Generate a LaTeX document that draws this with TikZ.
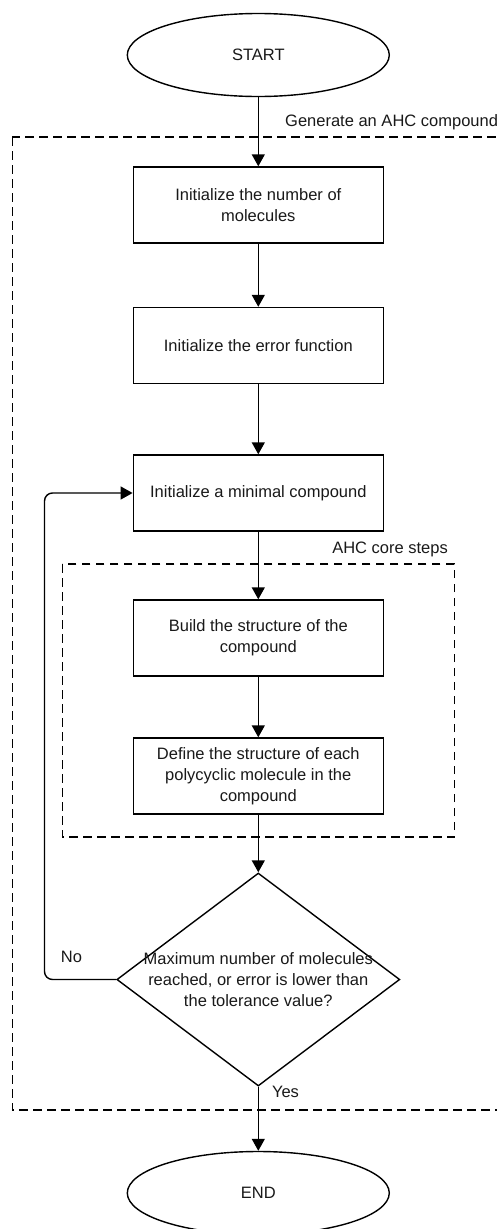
\documentclass[tikz,border=0pt]{standalone}
\usepackage{fontspec}
\setmainfont{Liberation Sans}
\usetikzlibrary{shapes.geometric,arrows.meta}
\begin{document}
\begin{tikzpicture}[x=1pt,y=-1pt,
  every node/.style={font=\fontsize{16.5}{21}\selectfont, text=black!90},
  stepbox/.style={draw, line width=1.4pt, rectangle, minimum width=250pt, minimum height=76pt, align=center, inner sep=0pt},
  termnode/.style={draw, line width=1.4pt, ellipse, minimum width=262pt, minimum height=83pt, inner sep=0pt},
  decnode/.style={draw, line width=1.4pt, diamond, minimum width=283pt, minimum height=213pt, inner sep=0pt},
  arr/.style={line width=1.4pt, -{Triangle[length=12pt,width=13pt]}},
  groupbox/.style={line width=1.2pt, dash pattern=on 8.5pt off 5.5pt},
  lbl/.style={inner sep=0pt}
]
\useasboundingbox (0,0) rectangle (497,1229);
\clip (0,0) rectangle (497,1229);

% group frames
\draw[groupbox] (12.3,137) rectangle (520,1110);
\node[lbl, anchor=west] (glabel) at (285,122) {Generate an AHC compound};
\draw[groupbox] (62.3,564) rectangle (454.3,837);
\node[lbl, anchor=east] (clabel) at (448,549) {AHC core steps};

% nodes
\node[termnode] (start) at (258.3,55) {START};
\node[stepbox] (b1) at (258.3,205) {Initialize the number of\\molecules};
\node[stepbox] (b2) at (258.3,345.5) {Initialize the error function};
\node[stepbox] (b3) at (258.3,493) {Initialize a minimal compound};
\node[stepbox] (b4) at (258.3,638) {Build the structure of the\\compound};
\node[stepbox] (b5) at (258.3,776) {Define the structure of each\\polycyclic molecule in the\\compound};
\node[decnode] (dec) at (258.3,979.5) {};
\node[lbl, align=center] (dectext) at (258.3,980) {Maximum number of molecules\\reached, or error is lower than\\the tolerance value?};
\node[termnode] (end) at (258.3,1193) {END};

% connectors
\draw[arr] (start) -- (b1);
\draw[arr] (b1) -- (b2);
\draw[arr] (b2) -- (b3);
\draw[arr] (b3) -- (b4);
\draw[arr] (b4) -- (b5);
\draw[arr] (b5) -- (dec);
\coordinate (loopx) at (44.5,0);
\draw[arr, rounded corners=8pt] (dec.west) -- (dec.west -| loopx) |- (b3.west);
\node[lbl] (nolabel) at (71.5,957) {No};
\draw[arr] (dec.south) -- (end.north);
\node[lbl] (yeslabel) at (285.5,1092) {Yes};
\end{tikzpicture}
\end{document}
